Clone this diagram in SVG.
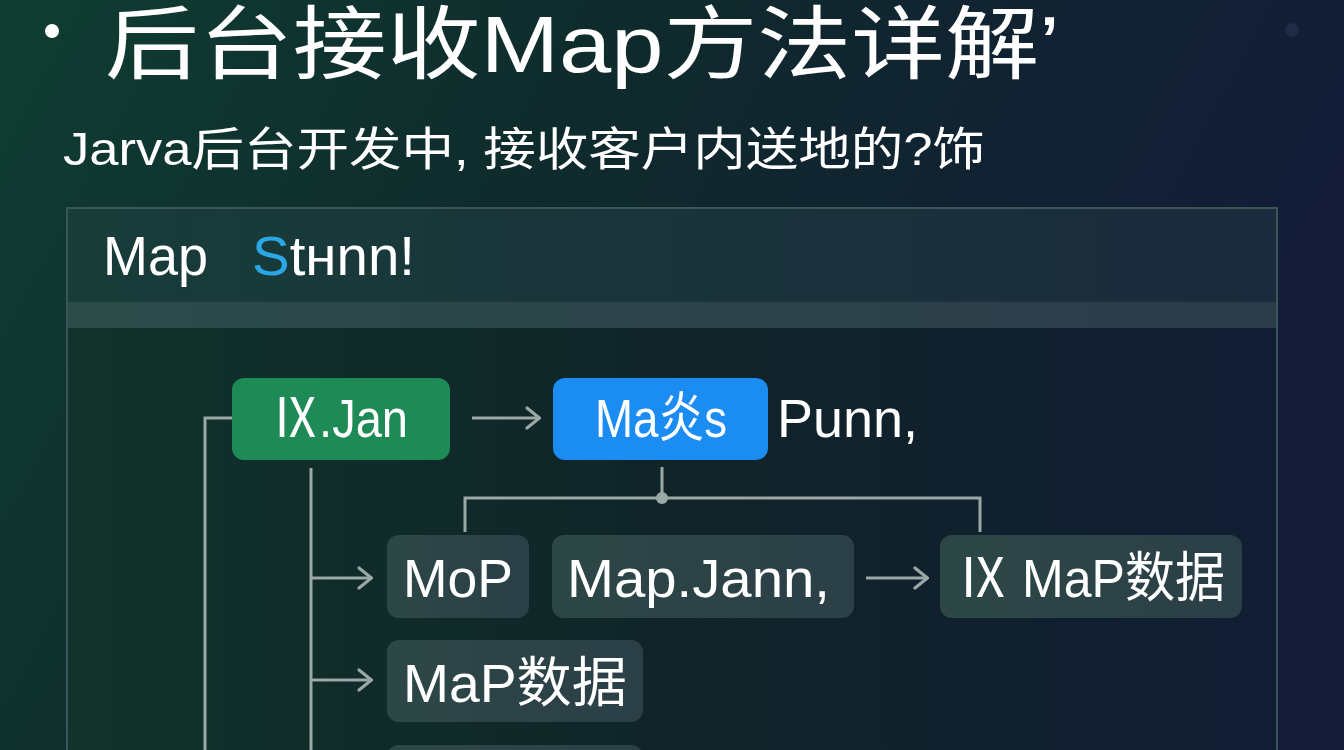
<svg xmlns="http://www.w3.org/2000/svg" width="1344" height="750" viewBox="0 0 1344 750">
<defs>
<linearGradient id="bg" x1="0" y1="0" x2="1" y2="0.3">
<stop offset="0" stop-color="#0f3d32"/>
<stop offset="0.45" stop-color="#0f2a2c"/>
<stop offset="1" stop-color="#131b38"/>
</linearGradient>
<linearGradient id="hdr" x1="0" y1="0" x2="1" y2="0">
<stop offset="0" stop-color="#183d39"/>
<stop offset="1" stop-color="#1b2a3c"/>
</linearGradient>
<linearGradient id="strip" x1="0" y1="0" x2="1" y2="0">
<stop offset="0" stop-color="#2c4c4a"/>
<stop offset="1" stop-color="#2c3b4a"/>
</linearGradient>
<linearGradient id="body" x1="0" y1="0" x2="1" y2="0">
<stop offset="0" stop-color="#10332b"/>
<stop offset="0.5" stop-color="#102428"/>
<stop offset="1" stop-color="#111d34"/>
</linearGradient>
<linearGradient id="box" x1="0" y1="0" x2="1" y2="0">
<stop offset="0" stop-color="#2d4746"/>
<stop offset="1" stop-color="#2b3f47"/>
</linearGradient>
<marker id="ah" viewBox="0 0 16 24" refX="15" refY="12" markerWidth="16" markerHeight="24" markerUnits="userSpaceOnUse" orient="auto">
<path d="M2 2 L14.5 12 L2 22" fill="none" stroke="#9aa8a6" stroke-width="3.2" stroke-linecap="round"/>
</marker>
<style>
text{font-family:"Liberation Sans","Noto Sans CJK SC",sans-serif;fill:#ffffff}
.lbl{font-size:54px}
.ln{fill:none;stroke:#9aa8a6;stroke-width:3}
.gbox{fill:url(#box)}
</style>
</defs>
<rect width="1344" height="750" fill="url(#bg)"/>
<circle cx="1292" cy="30" r="7" fill="#2a3450" opacity="0.6"/>
<circle cx="52" cy="31" r="7" fill="#ffffff"/>
<text x="105" y="72" font-size="80" textLength="955" lengthAdjust="spacingAndGlyphs">后台接收Map方法详解’</text>
<text x="63" y="165" font-size="46" textLength="922" lengthAdjust="spacingAndGlyphs">Jarva后台开发中, 接收客户内送地的?饰</text>
<g id="panel">
<rect x="67" y="208" width="1210" height="560" fill="url(#body)" stroke="#3b5656" stroke-width="2"/>
<rect x="68" y="209" width="1208" height="93" fill="url(#hdr)"/>
<rect x="68" y="302" width="1208" height="26" fill="url(#strip)"/>
<text x="103" y="275" font-size="55" textLength="105" lengthAdjust="spacingAndGlyphs">Map</text>
<text x="252" y="275" font-size="55" textLength="163" lengthAdjust="spacingAndGlyphs"><tspan fill="#2aa7e4">S</tspan>tнnn!</text>
</g>
<g id="connectors">
<path class="ln" d="M232 418 H205 V752"/>
<path class="ln" d="M311 468 V752"/>
<path class="ln" d="M311 578 H372" marker-end="url(#ah)"/>
<path class="ln" d="M311 680 H372" marker-end="url(#ah)"/>
<path class="ln" d="M472 418 H540" marker-end="url(#ah)"/>
<path class="ln" d="M662 467 V498 M465 532 V498 H980 V532"/>
<circle cx="662" cy="498" r="6" fill="#9aa8a6"/>
<path class="ln" d="M866 578 H928" marker-end="url(#ah)"/>
</g>
<g id="n-jan">
<rect x="232" y="378" width="218" height="82" rx="12" fill="#1e8a56"/>
<text class="lbl" x="272" y="437" textLength="136" lengthAdjust="spacingAndGlyphs">Ⅸ.Jan</text>
</g>
<g id="n-maps">
<rect x="553" y="378" width="215" height="82" rx="12" fill="#1a8cf2"/>
<text class="lbl" x="595" y="437" textLength="132" lengthAdjust="spacingAndGlyphs">Ma炎s</text>
</g>
<g id="n-punn">
<text class="lbl" x="777" y="437" textLength="141" lengthAdjust="spacingAndGlyphs">Punn,</text>
</g>
<g id="n-mop">
<rect class="gbox" x="387" y="535" width="142" height="83" rx="12"/>
<text class="lbl" x="403" y="597" textLength="110" lengthAdjust="spacingAndGlyphs">MoP</text>
</g>
<g id="n-mapjann">
<rect class="gbox" x="552" y="535" width="302" height="83" rx="12"/>
<text class="lbl" x="567" y="597" textLength="263" lengthAdjust="spacingAndGlyphs">Map.Jann,</text>
</g>
<g id="n-mapdata1">
<rect class="gbox" x="940" y="535" width="302" height="83" rx="12"/>
<text class="lbl" x="958" y="597" textLength="267" lengthAdjust="spacingAndGlyphs">Ⅸ MaP数据</text>
</g>
<g id="n-mapdata2">
<rect class="gbox" x="387" y="640" width="256" height="82" rx="12"/>
<text class="lbl" x="403" y="702" textLength="224" lengthAdjust="spacingAndGlyphs">MaP数据</text>
</g>
<g id="n-bottom">
<rect class="gbox" x="387" y="745" width="256" height="40" rx="12"/>
</g>
</svg>
